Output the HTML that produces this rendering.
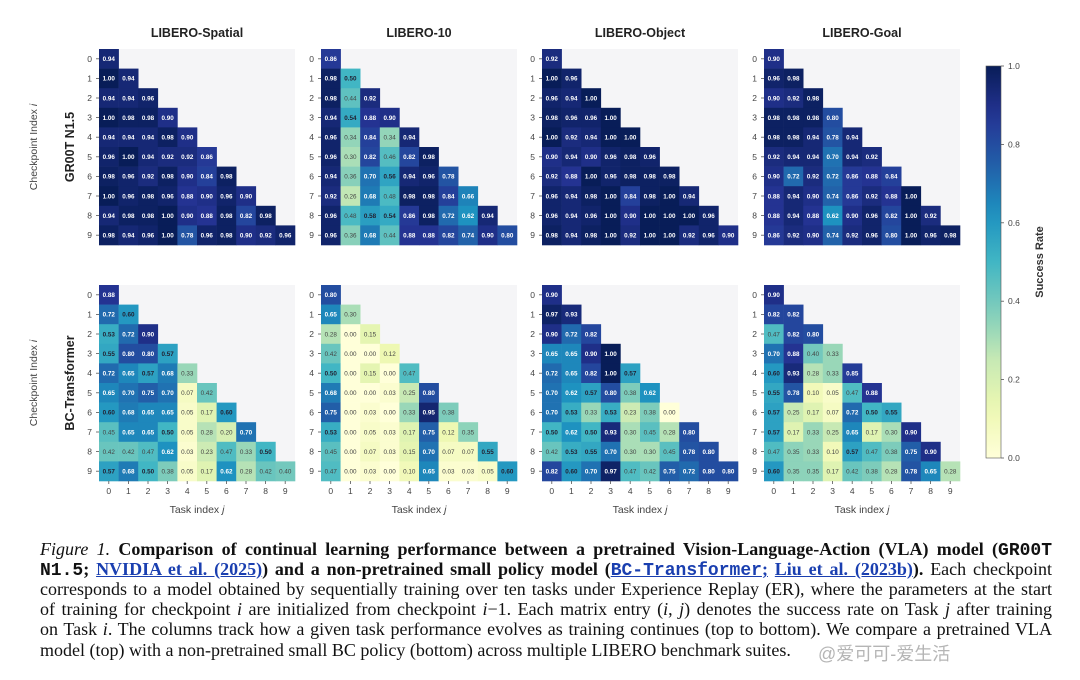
<!DOCTYPE html>
<html><head><meta charset="utf-8">
<style>
body{margin:0;background:#fff;width:1080px;height:680px;overflow:hidden;position:relative;font-family:"Liberation Sans",sans-serif}
#fig{position:absolute;left:0;top:0}
.cap{position:absolute;left:40px;width:1012px;font-family:"Liberation Serif",serif;font-size:18px;color:#111;white-space:nowrap;text-align:justify;text-align-last:justify;line-height:20px}
.cap.last{text-align-last:left}
.mono{font-family:"Liberation Mono",monospace;font-weight:bold}
.lnk{color:#1a3fb0;text-decoration:underline}
.wm{position:absolute;left:818px;top:640px;font-family:"Liberation Sans","Noto Sans CJK SC",sans-serif;font-size:18px;color:#b5b5b5}
</style></head><body>
<svg id="fig" width="1080" height="530" xmlns="http://www.w3.org/2000/svg"></svg>
<div class="cap" style="top:539px"><i>Figure 1.</i> <b>Comparison of continual learning performance between a pretrained Vision-Language-Action (VLA) model (<span class="mono">GR00T</span></b></div>
<div class="cap" style="top:559px"><b><span class="mono">N1.5</span>; <span class="lnk">NVIDIA et al. (2025)</span>) and a non-pretrained small policy model (<span class="lnk mono">BC-Transformer</span><span class="lnk">;</span> <span class="lnk">Liu et al. (2023b)</span>).</b> Each checkpoint</div>
<div class="cap" style="top:579px">corresponds to a model obtained by sequentially training over ten tasks under Experience Replay (ER), where the parameters at the start</div>
<div class="cap" style="top:599px">of training for checkpoint <i>i</i> are initialized from checkpoint <i>i</i>&minus;1. Each matrix entry (<i>i</i>, <i>j</i>) denotes the success rate on Task <i>j</i> after training</div>
<div class="cap" style="top:619px">on Task <i>i</i>. The columns track how a given task performance evolves as training continues (top to bottom). We compare a pretrained VLA</div>
<div class="cap last" style="top:640px">model (top) with a non-pretrained small BC policy (bottom) across multiple LIBERO benchmark suites.</div>
<div class="wm">@爱可可-爱生活</div>
<script>
const suites=["LIBERO-Spatial","LIBERO-10","LIBERO-Object","LIBERO-Goal"];
const models=["GR00T N1.5","BC-Transformer"];
const tickLabels=["0","1","2","3","4","5","6","7","8","9"];
const cbTicks=[0.0,0.2,0.4,0.6,0.8,1.0];
const grootSpatial=[[0.94],[1.00,0.94],[0.94,0.94,0.96],[1.00,0.98,0.98,0.90],[0.94,0.94,0.94,0.98,0.90],[0.96,1.00,0.94,0.92,0.92,0.86],[0.98,0.96,0.92,0.98,0.90,0.84,0.98],[1.00,0.96,0.98,0.96,0.88,0.90,0.96,0.90],[0.94,0.98,0.98,1.00,0.90,0.88,0.98,0.82,0.98],[0.98,0.94,0.96,1.00,0.78,0.96,0.98,0.90,0.92,0.96]];
const groot10=[[0.86],[0.98,0.50],[0.98,0.44,0.92],[0.94,0.54,0.88,0.90],[0.96,0.34,0.84,0.34,0.94],[0.96,0.30,0.82,0.46,0.82,0.98],[0.94,0.36,0.70,0.56,0.94,0.96,0.78],[0.92,0.26,0.68,0.48,0.98,0.98,0.84,0.66],[0.96,0.48,0.58,0.54,0.86,0.98,0.72,0.62,0.94],[0.96,0.36,0.68,0.44,0.88,0.88,0.82,0.74,0.90,0.80]];
const grootObject=[[0.92],[1.00,0.96],[0.96,0.94,1.00],[0.98,0.96,0.96,1.00],[1.00,0.92,0.94,1.00,1.00],[0.90,0.94,0.90,0.96,0.98,0.96],[0.92,0.88,1.00,0.96,0.98,0.98,0.98],[0.96,0.94,0.98,1.00,0.84,0.98,1.00,0.94],[0.96,0.94,0.96,1.00,0.90,1.00,1.00,1.00,0.96],[0.98,0.94,0.98,1.00,0.92,1.00,1.00,0.92,0.96,0.90]];
const grootGoal=[[0.90],[0.96,0.98],[0.90,0.92,0.98],[0.98,0.98,0.98,0.80],[0.98,0.98,0.94,0.78,0.94],[0.92,0.94,0.94,0.70,0.94,0.92],[0.90,0.72,0.92,0.72,0.86,0.88,0.84],[0.88,0.94,0.90,0.74,0.86,0.92,0.88,1.00],[0.88,0.94,0.88,0.62,0.90,0.96,0.82,1.00,0.92],[0.86,0.92,0.90,0.74,0.92,0.96,0.80,1.00,0.96,0.98]];
const bcSpatial=[[0.88],[0.72,0.60],[0.53,0.72,0.90],[0.55,0.80,0.80,0.57],[0.72,0.65,0.57,0.68,0.33],[0.65,0.70,0.75,0.70,0.07,0.42],[0.60,0.68,0.65,0.65,0.05,0.17,0.60],[0.45,0.65,0.65,0.50,0.05,0.28,0.20,0.70],[0.42,0.42,0.47,0.62,0.03,0.23,0.47,0.33,0.50],[0.57,0.68,0.50,0.38,0.05,0.17,0.62,0.28,0.42,0.40]];
const bc10=[[0.80],[0.65,0.30],[0.28,0.00,0.15],[0.42,0.00,0.00,0.12],[0.50,0.00,0.15,0.00,0.47],[0.68,0.00,0.00,0.03,0.25,0.80],[0.75,0.00,0.03,0.00,0.33,0.95,0.38],[0.53,0.00,0.05,0.03,0.17,0.75,0.12,0.35],[0.45,0.00,0.07,0.03,0.15,0.70,0.07,0.07,0.55],[0.47,0.00,0.03,0.00,0.10,0.65,0.03,0.03,0.05,0.60]];
const bcObject=[[0.90],[0.97,0.93],[0.90,0.72,0.82],[0.65,0.65,0.90,1.00],[0.72,0.65,0.82,1.00,0.57],[0.70,0.62,0.57,0.80,0.38,0.62],[0.70,0.53,0.33,0.53,0.23,0.38,0.00],[0.50,0.62,0.50,0.93,0.30,0.45,0.28,0.80],[0.42,0.53,0.55,0.70,0.30,0.30,0.45,0.78,0.80],[0.82,0.60,0.70,0.97,0.47,0.42,0.75,0.72,0.80,0.80]];
const bcGoal=[[0.90],[0.82,0.82],[0.47,0.82,0.80],[0.70,0.88,0.40,0.33],[0.60,0.93,0.28,0.33,0.85],[0.55,0.78,0.10,0.05,0.47,0.88],[0.57,0.25,0.17,0.07,0.72,0.50,0.55],[0.57,0.17,0.33,0.25,0.65,0.17,0.30,0.90],[0.47,0.35,0.33,0.10,0.57,0.47,0.38,0.75,0.90],[0.60,0.35,0.35,0.17,0.42,0.38,0.28,0.78,0.65,0.28]];
const grids=[[grootSpatial,groot10,grootObject,grootGoal],[bcSpatial,bc10,bcObject,bcGoal]];

const NS="http://www.w3.org/2000/svg";
const svg=document.getElementById('fig');
const panelX=[99,321,542,764], panelY=[49,285], S=196, C=S/10;
const cbX=986,cbW=15,cbTop=66,cbBot=458;
const stops=[[255,255,217],[237,248,177],[199,233,180],[127,205,187],[65,182,196],[29,145,192],[34,94,168],[37,52,148],[8,29,88]];
function cmap(v){v=Math.max(0,Math.min(1,v));const t=v*8,i=Math.min(7,Math.floor(t)),f=t-i;const a=stops[i],b=stops[i+1];return `rgb(${a.map((x,k)=>Math.round(x+(b[k]-x)*f)).join(',')})`;}
function el(tag,attrs,parent){const e=document.createElementNS(NS,tag);for(const k in attrs)e.setAttribute(k,attrs[k]);(parent||svg).appendChild(e);return e;}
function txt(s,attrs,parent){const e=el('text',attrs,parent);e.textContent=s;return e;}
const xScale=(p,j)=>panelX[p]+j*C, yScale=(r,i)=>panelY[r]+i*C;
const cbY=v=>cbBot-(cbBot-cbTop)*v;

for(let r=0;r<2;r++){
  for(let p=0;p<4;p++){
    const g=el('g',{});
    
    
    const bg=el('rect',{x:panelX[p],y:panelY[r],width:S,height:S,fill:'#f5f5f7'},g);
    
    
    if(r===0){const t=txt(suites[p],{x:panelX[p]+S/2,y:37,'text-anchor':'middle','font-size':12.5,'font-weight':'bold',fill:'#222'},g);
      
      }
    const data=grids[r][p];
    data.forEach((row,i)=>row.forEach((v,j)=>{
      const c=el('rect',{x:xScale(p,j),y:yScale(r,i),width:C+0.3,height:C+0.3,fill:cmap(v)},g);
      
      
      const dark=v>0.605, mid=v>=0.5;
      const t=txt(v.toFixed(2),{x:xScale(p,j)+C/2,y:yScale(r,i)+C/2+2.3,'text-anchor':'middle','font-size':6.3,'font-weight':(dark||mid)?'bold':'normal',fill:dark?'#fff':(mid?'#223':'#444')},g);
      
      
    }));
    tickLabels.forEach((s,i)=>{
      el('line',{x1:panelX[p]-3,x2:panelX[p],y1:yScale(r,i)+C/2,y2:yScale(r,i)+C/2,stroke:'#555','stroke-width':0.8},g);
      const t=txt(s,{x:panelX[p]-7,y:yScale(r,i)+C/2+3,'text-anchor':'end','font-size':8.5,fill:'#444'},g);
      
      
      if(r===1){
        el('line',{x1:xScale(p,i)+C/2,x2:xScale(p,i)+C/2,y1:panelY[r]+S,y2:panelY[r]+S+3,stroke:'#555','stroke-width':0.8},g);
        const tx=txt(s,{x:xScale(p,i)+C/2,y:panelY[r]+S+13,'text-anchor':'middle','font-size':8.5,fill:'#444'},g);
        
        
      }
    });
    if(r===1){const t=txt('',{x:panelX[p]+S/2,y:513,'text-anchor':'middle','font-size':10.5,fill:'#444'},g);
      t.innerHTML='Task index <tspan font-style="italic">j</tspan>';
      
      }
  }
  const cy=panelY[r]+S/2;
  const m=txt(models[r],{x:0,y:0,transform:`translate(74,${cy}) rotate(-90)`,'text-anchor':'middle','font-size':12.5,'font-weight':'bold',fill:'#222'});
  
  
  const ya=txt('',{x:0,y:0,transform:`translate(37,${cy}) rotate(-90)`,'text-anchor':'middle','font-size':10.5,fill:'#444'});
  ya.innerHTML='Checkpoint Index <tspan font-style="italic">i</tspan>';
  
  
}
const defs=el('defs',{});
const lg=el('linearGradient',{id:'cbg',x1:0,y1:1,x2:0,y2:0},defs);
for(let k=0;k<=20;k++){el('stop',{offset:k/20,'stop-color':cmap(k/20)},lg);}
const cb=el('rect',{x:cbX,y:cbTop,width:cbW,height:cbBot-cbTop,fill:'url(#cbg)',stroke:'#555','stroke-width':0.6});


cbTicks.forEach(v=>{
  el('line',{x1:cbX+cbW,x2:cbX+cbW+3,y1:cbY(v),y2:cbY(v),stroke:'#555','stroke-width':0.8});
  const t=txt(v.toFixed(1),{x:cbX+cbW+7,y:cbY(v)+3,'font-size':8.5,fill:'#444'});
  
  
});
const cl=txt('Success Rate',{x:0,y:0,transform:`translate(1043,${(cbTop+cbBot)/2}) rotate(-90)`,'text-anchor':'middle','font-size':11,'font-weight':'bold',fill:'#333'});


</script>
</body></html>
